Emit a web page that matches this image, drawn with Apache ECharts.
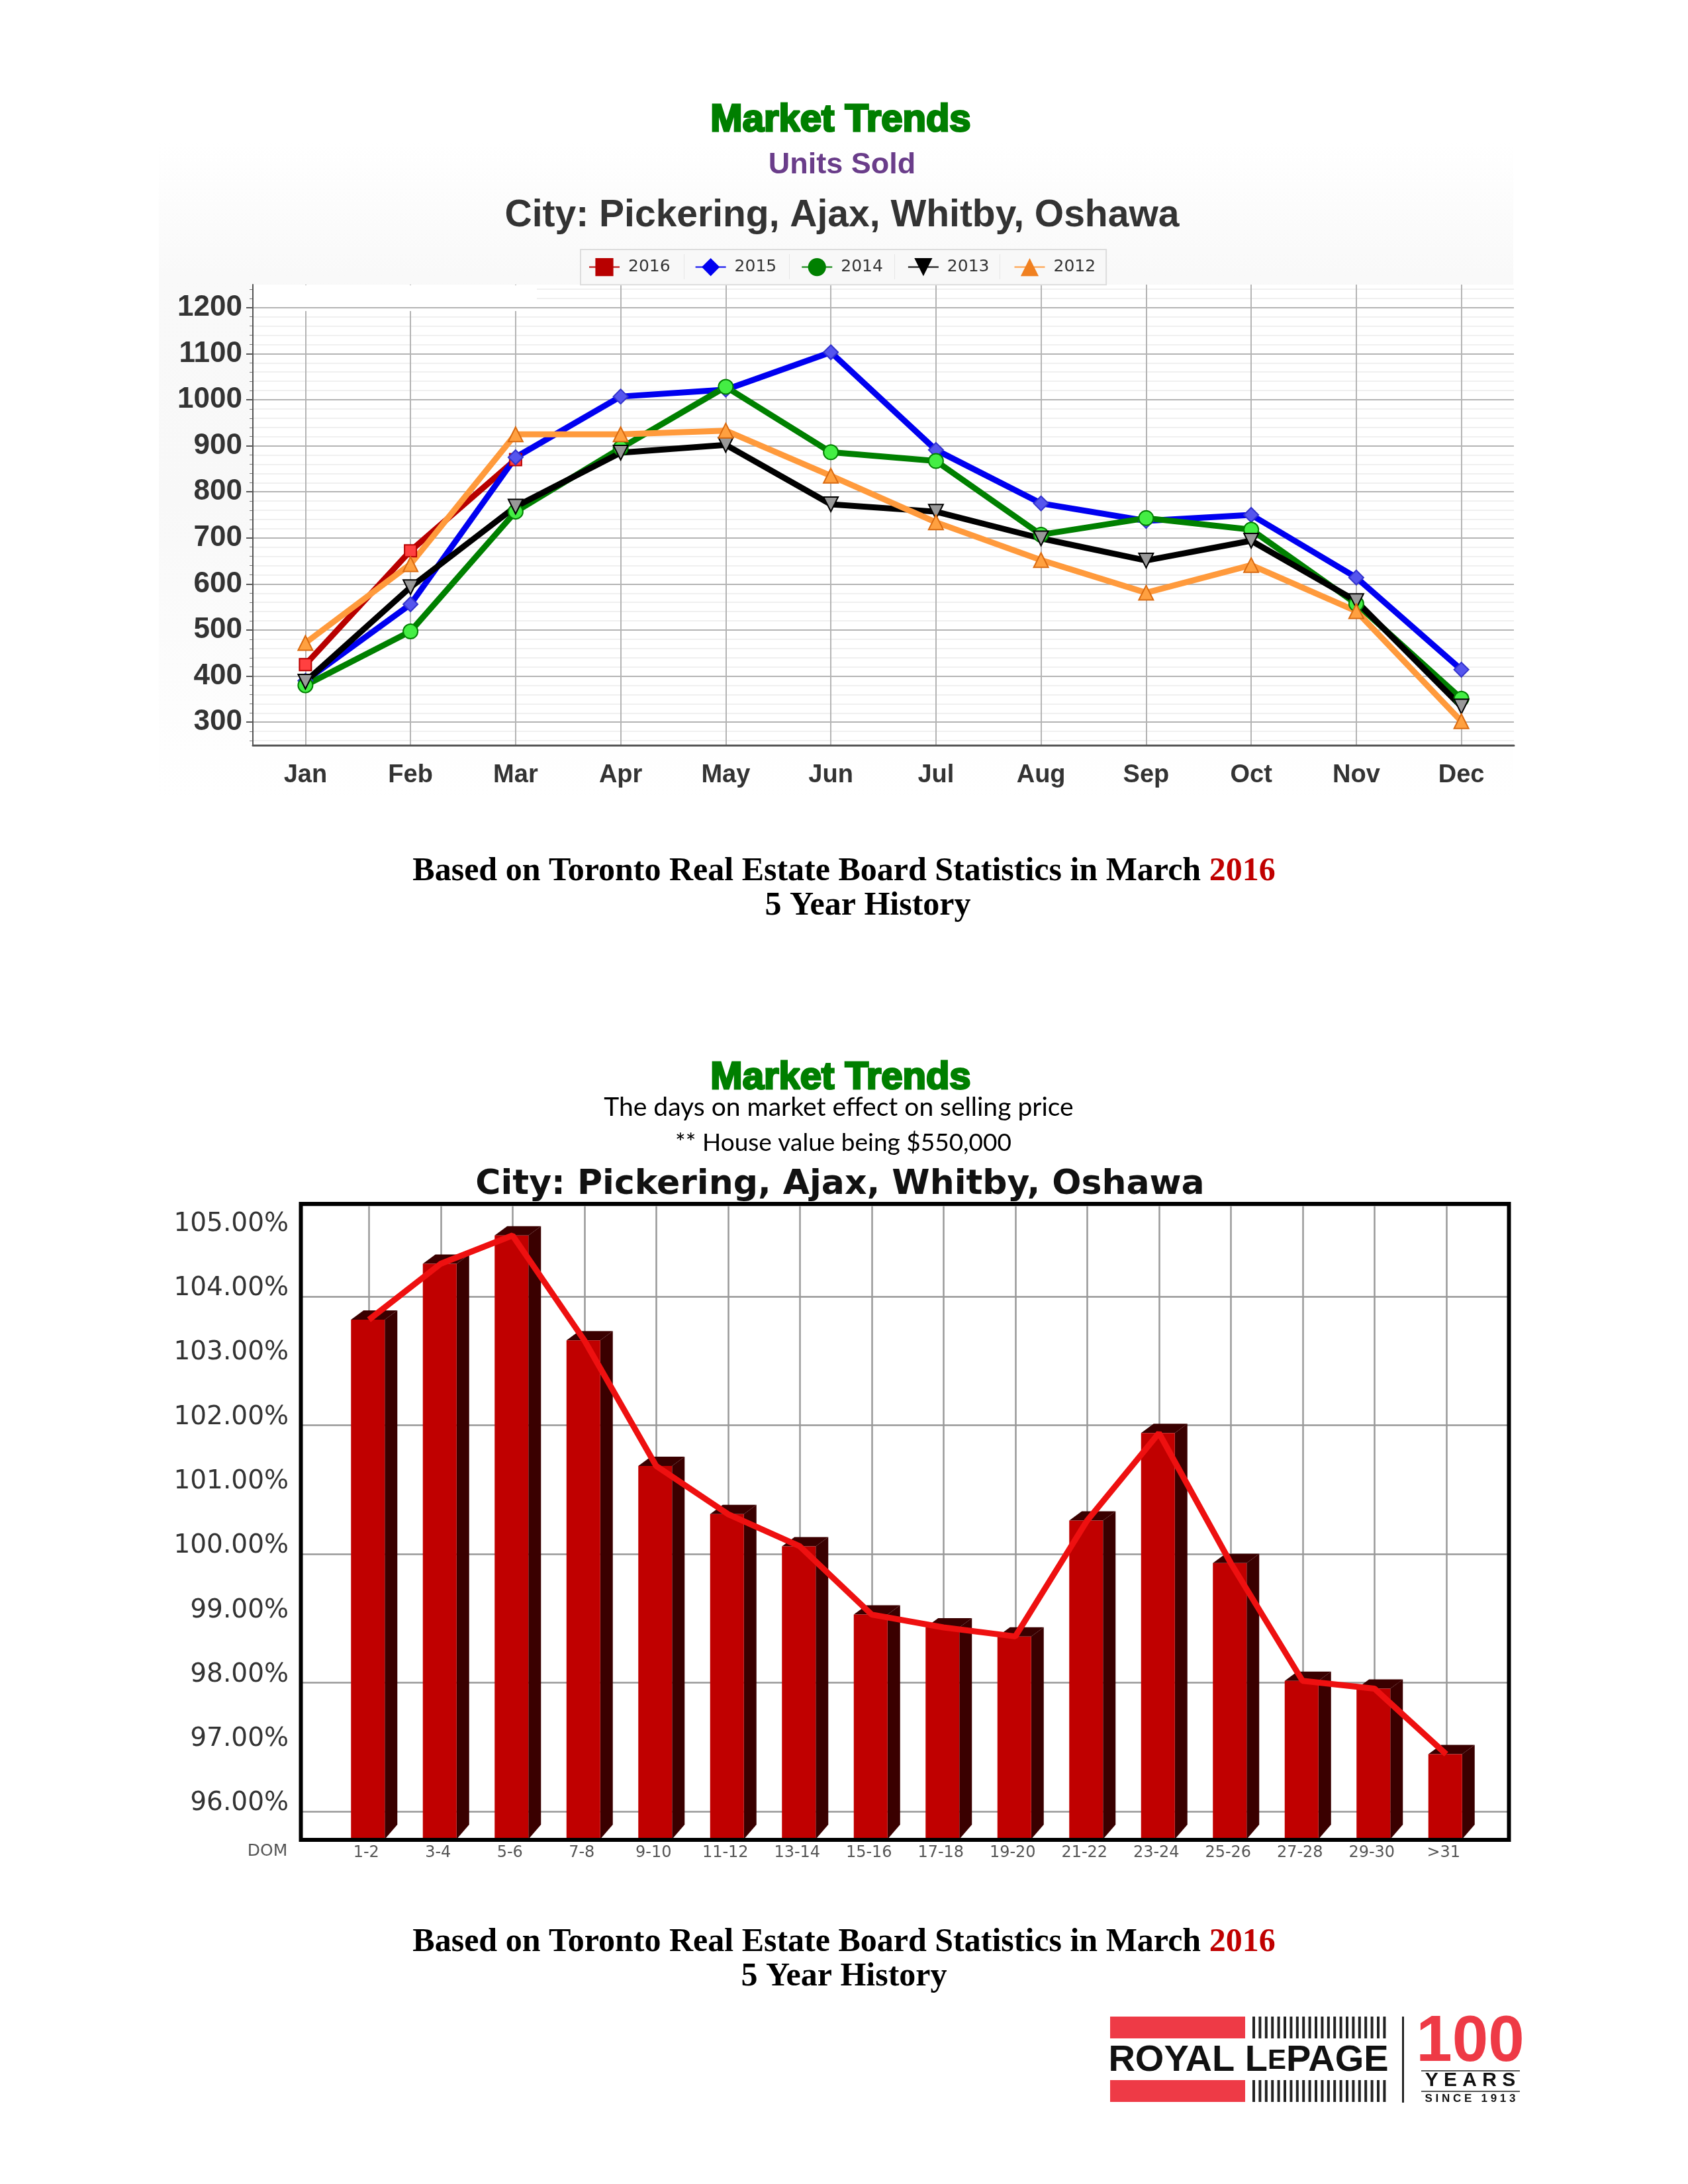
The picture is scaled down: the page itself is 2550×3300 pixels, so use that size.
<!DOCTYPE html>
<html><head><meta charset="utf-8">
<style>html,body{margin:0;padding:0;background:#fff}#c{width:2550px;height:3300px}</style>
<script src="https://cdn.jsdelivr.net/npm/echarts@6/dist/echarts.min.js"></script>
</head><body><div id="c"></div>
<script>
const months = ['Jan','Feb','Mar','Apr','May','Jun','Jul','Aug','Sep','Oct','Nov','Dec'];
const units2016 = [425,672,870,null,null,null,null,null,null,null,null,null];
const units2015 = [390,556,875,1007,1022,1103,891,775,737,750,614,414];
const units2014 = [380,497,757,895,1028,886,867,707,743,718,557,351];
const units2013 = [388,593,768,885,902,773,757,699,651,694,563,334];
const units2012 = [472,643,925,925,933,835,734,652,581,641,541,302];
const unitTicks = [300,400,500,600,700,800,900,1000,1100,1200];
const domBands = ['1-2','3-4','5-6','7-8','9-10','11-12','13-14','15-16','17-18','19-20','21-22','23-24','25-26','27-28','29-30','>31'];
const pricePct = [103.64,104.51,104.95,103.32,101.37,100.62,100.12,99.06,98.86,98.72,100.52,101.88,99.86,98.03,97.91,96.89];
const pctTicks = [96,97,98,99,100,101,102,103,104,105];

const minorUnitTicks = [];
for (let v = 260; v <= 1240; v += 20) minorUnitTicks.push(v);

const SANS = '"Liberation Sans"', SERIF = '"Liberation Serif"', DJ = '"DejaVu Sans"';
function txt(text, x, y, size, fill, family, weight, extra) {
  return Object.assign({type:'text', z:5, style:Object.assign({text, x, y, fill,
    fontSize:size, fontFamily:family, fontWeight:weight||'normal',
    textAlign:'center', textVerticalAlign:'middle'}, extra||{})});
}
function rect(x,y,w,h,fill,z){ return {type:'rect', z:z==null?5:z, shape:{x,y,width:w,height:h}, style:{fill}}; }
const boardRich = {k:{fontSize:50,fontFamily:SERIF,fontWeight:'bold',fill:'#000'},r:{fontSize:50,fontFamily:SERIF,fontWeight:'bold',fill:'#c00000'}};

const graphics = [
  {type:'rect', z:-10, shape:{x:240,y:215,width:2046,height:990},
   style:{fill:{type:'linear',x:0,y:0,x2:0,y2:1,colorStops:[
     {offset:0,color:'#ffffff'},{offset:.2,color:'#f9f9f9'},{offset:.55,color:'#f8f8f8'},{offset:1,color:'#ffffff'}]}}},
  rect(383,431,428,39,'#ffffff',1),
  txt('Market Trends',1270,182,58,'#007f00',SANS,'bold',{stroke:'#007f00',lineWidth:3}),
  txt('Units Sold',1272,250,45,'#6a3d8a',SANS,'bold'),
  txt('City: Pickering, Ajax, Whitby, Oshawa',1272,326,57,'#333333',SANS,'bold'),
  txt('{k|Based on Toronto Real Estate Board Statistics in March }{r|2016}',1275,1317,50,'#000',SERIF,'bold',{rich:boardRich}),
  txt('5 Year History',1311,1369,50,'#000',SERIF,'bold'),
  txt('Market Trends',1270,1629,58,'#007f00',SANS,'bold',{stroke:'#007f00',lineWidth:3}),
  txt('The days on market effect on selling price',1267,1673,39,'#000',"Lato"),
  txt('** House value being $550,000',1274,1727,37,'#000',"Lato"),
  txt('City: Pickering, Ajax, Whitby, Oshawa',1269,1790,52,'#111111',DJ,'bold'),
  txt('DOM',404,2797,25,'#555555',DJ),
  txt('{k|Based on Toronto Real Estate Board Statistics in March }{r|2016}',1275,2935,50,'#000',SERIF,'bold',{rich:boardRich}),
  txt('5 Year History',1275,2987,50,'#000',SERIF,'bold'),
  rect(1677,3047,204,33,'#ee3a46'),
  rect(1677,3143,204,33,'#ee3a46'),
  txt('{a|ROYAL L}{b|E}{a|PAGE}',1886,3114,56,'#111',SANS,'bold',
    {rich:{a:{fontSize:56,fontFamily:SANS,fontWeight:'bold',fill:'#111'},b:{fontSize:42,fontFamily:SANS,fontWeight:'bold',fill:'#111'}}}),
  rect(2118,3047,3,130,'#222222'),
  txt('100',2221,3087,98,'#ee3a46',SANS,'bold'),
  rect(2147,3128,149,2,'#555555'),
  txt('Y E A R S',2221,3144,30,'#111',SANS,'bold'),
  rect(2147,3159,149,2,'#555555'),
  txt('S I N C E   1 9 1 3',2221,3171,17,'#111',SANS,'bold'),
  {type:'rect', z:10, shape:{x:454.5,y:1819,width:1825,height:961}, style:{fill:'transparent',stroke:'#000000',lineWidth:6}}
];
for (let i = 0; i < 22; i++) {
  graphics.push(rect(1892 + i*9.4, 3047, 4, 33, '#222222'));
  graphics.push(rect(1892 + i*9.4, 3143, 4, 33, '#222222'));
}
[1033,1192,1351,1510].forEach(x => graphics.push(rect(x,384,1,38,'#e6e6e6',6)));

function lineSeries(name, data, symbol, size, line, fill, border, extra) {
  return Object.assign({name, type:'line', data, xAxisIndex:0, yAxisIndex:0, symbol, symbolSize:size,
    showAllSymbols:true, connectNulls:false,
    lineStyle:{color:line,width:9,join:'round'},
    itemStyle:{color:fill,borderColor:border,borderWidth:2}}, extra||{});
}
const DEPTH_X = 19, DEPTH_Y = 14, FRONT_L = 27, FRONT_R = 24;

function renderBar(params, api) {
  const idx = api.value(0), val = api.value(1);
  const top = api.coord([idx, val]);
  const base = api.coord([idx, 95.57]);
  const cx = top[0], t = top[1], b = base[1];
  const l = cx - FRONT_L, r = cx + FRONT_R;
  const dark = '#3a0000', red = '#c00000';
  return {type:'group', children:[
    {type:'polygon', shape:{points:[[r,t],[r+DEPTH_X,t-DEPTH_Y],[r+DEPTH_X,b-DEPTH_Y-8],[r,b]]}, style:{fill:dark}},
    {type:'polygon', shape:{points:[[l,t],[l+DEPTH_X,t-DEPTH_Y],[r+DEPTH_X,t-DEPTH_Y],[r,t]]}, style:{fill:dark}},
    {type:'rect', shape:{x:l,y:t,width:r-l,height:b-t}, style:{fill:red}}
  ]};
}

const option = {
  animation:false,
  backgroundColor:'#ffffff',
  graphic:{elements:graphics},
  legend:{
    show:true, left:877, top:377, z:4,
    width:800,
    padding:[13,16,13,12],
    backgroundColor:'#f8f8f8', borderColor:'#dddddd', borderWidth:2,
    itemWidth:46, itemHeight:34, itemGap:37,
    textStyle:{fontFamily:DJ,fontSize:25,color:'#333333',padding:[0,0,0,8]},
    data:[
      {name:'2016',itemStyle:{color:'#b80000',borderWidth:0},lineStyle:{width:2}},
      {name:'2015',itemStyle:{color:'#0000f0',borderWidth:0},lineStyle:{width:2}},
      {name:'2014',itemStyle:{color:'#008000',borderWidth:0},lineStyle:{width:2}},
      {name:'2013',itemStyle:{color:'#000000',borderWidth:0},lineStyle:{width:2}},
      {name:'2012',itemStyle:{color:'#f08020',borderWidth:0},lineStyle:{width:2}}
    ]
  },
  grid:[
    {left:382,top:430,width:1905,height:696,show:true,backgroundColor:'#ffffff',borderWidth:0},
    {left:456,top:1821,width:1822,height:958,show:true,backgroundColor:'#ffffff',borderWidth:0},
    {left:503,top:1821,width:1736,height:958,show:false}
  ],
  xAxis:[
    {gridIndex:0,type:'category',data:months,boundaryGap:true,
      axisLine:{lineStyle:{color:'#555555',width:3}},
      axisTick:{alignWithLabel:true,length:10,lineStyle:{color:'#555555',width:2}},
      axisLabel:{interval:0,margin:27,fontFamily:SANS,fontWeight:'bold',fontSize:38,color:'#333333'},
      splitLine:{show:true,alignWithLabel:true,interval:0,lineStyle:{color:'#b4b4b4',width:2}}},
    {gridIndex:1,type:'category',data:[''],show:false},
    {gridIndex:2,type:'category',data:domBands,boundaryGap:true,
      axisLine:{show:false},
      axisTick:{show:false},
      axisLabel:{interval:0,margin:9,fontFamily:DJ,fontSize:24,color:'#555555',padding:[0,8,0,0]},
      splitLine:{show:true,alignWithLabel:true,interval:0,lineStyle:{color:'#999999',width:2.5}}}
  ],
  yAxis:[
    {gridIndex:0,type:'value',min:250,max:1250,position:'left',z:1,
      axisLine:{show:true,lineStyle:{color:'#555555',width:2}},
      axisTick:{show:true,length:10,customValues:unitTicks,lineStyle:{color:'#555555',width:2}},
      axisLabel:{customValues:unitTicks,margin:16,fontFamily:SANS,fontWeight:'bold',fontSize:44,color:'#333333',
        formatter:v=>String(v)},
      splitLine:{show:true,lineStyle:{color:'#b4b4b4',width:2}}},
    {gridIndex:0,type:'value',min:250,max:1250,position:'left',z:0,
      axisLine:{show:false},
      axisTick:{show:true,length:5,customValues:minorUnitTicks,lineStyle:{color:'#777777',width:1}},
      axisLabel:{show:false},
      splitLine:{show:true,lineStyle:{color:'#f0f0f0',width:2}}},
    {gridIndex:1,type:'value',min:95.57,max:105.42,position:'left',
      axisLine:{show:false},axisTick:{show:false},
      axisLabel:{customValues:pctTicks,margin:20,fontFamily:DJ,fontSize:39,color:'#333333',
        formatter:v=>v.toFixed(2)+'%',verticalAlign:'bottom',lineHeight:24},
      splitLine:{show:true,lineStyle:{color:'#999999',width:2.5}}},
    {gridIndex:2,type:'value',min:95.57,max:105.42,show:false}
  ],
  series:[
    lineSeries('2016',units2016,'rect',18,'#b80000','#ff4040','#b80000'),
    lineSeries('2015',units2015,'diamond',22,'#0000f0','#5555ee','#3333cc'),
    lineSeries('2014',units2014,'circle',22,'#008000','#44ee44','#008000'),
    lineSeries('2013',units2013,'triangle',22,'#000000','#999999','#000000',{symbolRotate:180}),
    lineSeries('2012',units2012,'triangle',22,'#ff9a3c','#ffa040','#d96a10'),
    {type:'custom',xAxisIndex:2,yAxisIndex:3,clip:false,
      encode:{x:0,y:1},
      data:pricePct.map((v,i)=>[i,v]),renderItem:renderBar,z:3},
    {type:'line',xAxisIndex:2,yAxisIndex:3,data:pricePct,symbol:'none',z:4,
      lineStyle:{color:'#ee1010',width:9}}
  ]
};
const chart = echarts.init(document.getElementById('c'),null,{renderer:'canvas',width:2550,height:3300});
chart.setOption(option);
</script></body></html>
